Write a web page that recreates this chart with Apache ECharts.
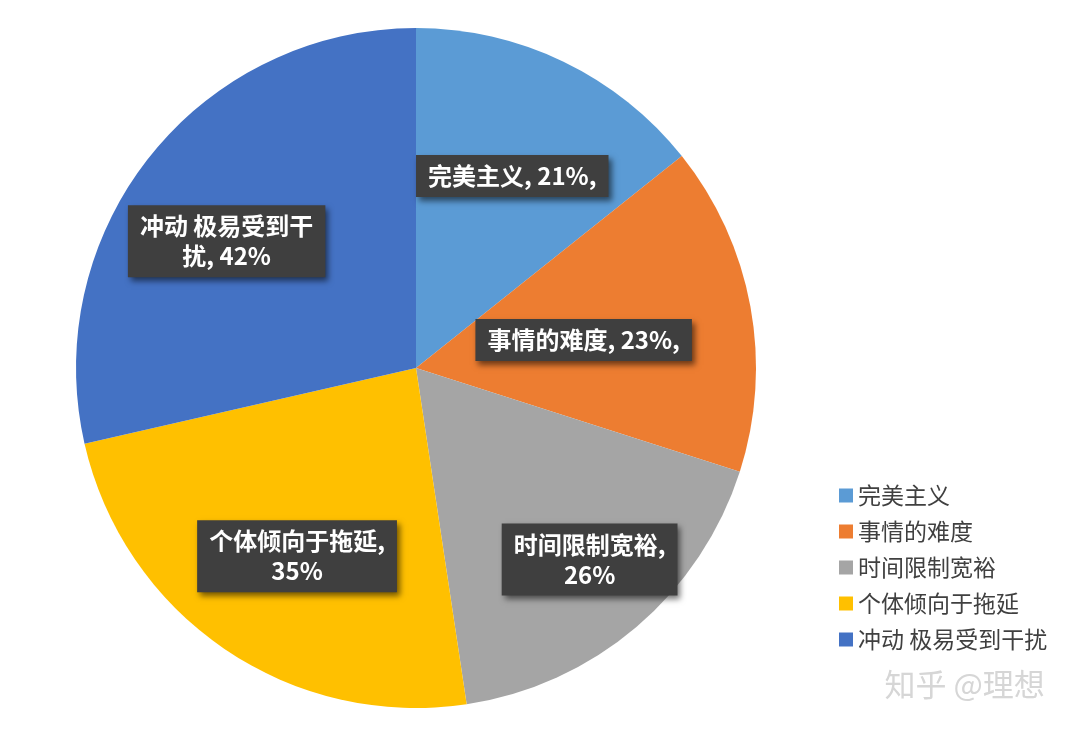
<!DOCTYPE html>
<html>
<head>
<meta charset="utf-8">
<script src="https://cdn.jsdelivr.net/npm/echarts@6/dist/echarts.min.js"></script>
<style>
html,body{margin:0;padding:0;background:#fff;}
#main{width:1080px;height:733px;}
</style>
</head>
<body>
<div id="main"></div>
<script>
// data
const categories = ['完美主义', '事情的难度', '时间限制宽裕', '个体倾向于拖延', '冲动 极易受到干扰'];
const values = [21, 23, 26, 35, 42];
const labelTexts = ['完美主义, 21%,', '事情的难度, 23%,', '时间限制宽裕,\n26%', '个体倾向于拖延,\n35%', '冲动 极易受到干\n扰, 42%'];

// styles
const colors = ['#5B9BD5', '#ED7D31', '#A5A5A5', '#FFC000', '#4472C4'];
const labelRadiusFrac = [0.632, 0.50, 0.76, 0.655, 0.67];
const labelAngleShiftDeg = [0.9, 0.9, -1.8, -2.0, -4.8];
const CX = 416, CY = 368, R = 340;

const total = values.reduce((a, b) => a + b, 0);
const midAngles = [];
let acc = 0;
values.forEach(v => { midAngles.push((acc + v / 2) / total * 2 * Math.PI); acc += v; });

const chart = echarts.init(document.getElementById('main'));
chart.setOption({
  backgroundColor: '#ffffff',
  animation: false,
  color: colors,
  legend: {
    orient: 'vertical',
    left: 834,
    top: 479,
    icon: 'rect',
    itemWidth: 14,
    itemHeight: 14,
    itemGap: 13,
    textStyle: { fontSize: 23, color: '#404040', fontFamily: 'Noto Sans CJK SC' },
    data: categories
  },
  graphic: [{
    type: 'text',
    left: 884,
    top: 668,
    style: {
      text: '知乎 @理想',
      fontSize: 31,
      fontFamily: 'Noto Sans CJK SC',
      fill: '#d6d6d6',
      stroke: '#ffffff',
      lineWidth: 1
    }
  }],
  series: [{
    type: 'pie',
    center: [CX, CY],
    radius: [0, R],
    startAngle: 90,
    clockwise: true,
    data: categories.map((c, i) => ({ name: c, value: values[i] })),
    itemStyle: { borderWidth: 0 },
    label: {
      show: true,
      position: 'inside',
      formatter: p => labelTexts[p.dataIndex],
      color: '#ffffff',
      fontSize: 24,
      fontWeight: 'bold',
      fontFamily: 'Noto Sans CJK SC',
      lineHeight: 30,
      align: 'center',
      verticalAlign: 'middle',
      backgroundColor: '#3f3f3f',
      padding: [6, 12],
      shadowColor: 'rgba(0,0,0,0.55)',
      shadowBlur: 6,
      shadowOffsetX: 3,
      shadowOffsetY: 4
    },
    labelLine: { show: false },
    labelLayout: function (p) {
      const i = p.dataIndex;
      const a = midAngles[i] + labelAngleShiftDeg[i] * Math.PI / 180;
      const d = R * labelRadiusFrac[i];
      return { x: CX + d * Math.sin(a), y: CY - d * Math.cos(a), align: 'center', verticalAlign: 'middle' };
    },
    emphasis: { disabled: true }
  }]
});
</script>
</body>
</html>
